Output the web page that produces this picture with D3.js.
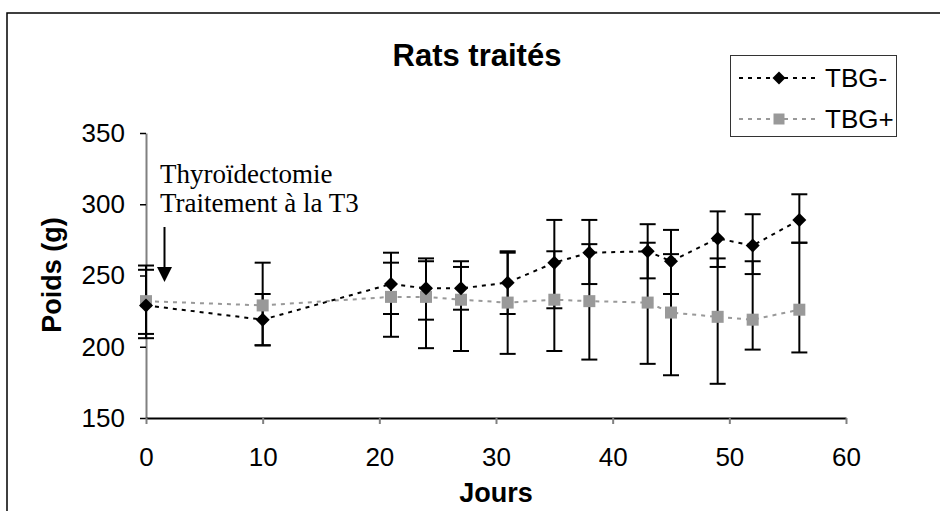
<!DOCTYPE html>
<html>
<head>
	<meta charset="utf-8">
	<script type="text/javascript" src="https://cdn.jsdelivr.net/npm/d3@7/dist/d3.min.js"></script>
	<title>Rats traités</title>
	<style>
		body { margin: 0; background: #fff; }
	</style>
</head>
<body>
	<script type="text/javascript">

	// jours de mesure
	var days = [0, 10, 21, 24, 27, 31, 35, 38, 43, 45, 49, 52, 56];

	// TBG- : moyenne, bas et haut des barres d'erreur
	var tbgMoins = [229, 219, 244, 241, 241, 245, 259, 266, 267, 260, 276, 271, 289];
	var tbgMoinsLo = [209, 201, 223, 219, 226, 223, 227, 244, 248, 237, 256, 251, 273];
	var tbgMoinsHi = [254, 237, 266, 262, 256, 267, 289, 289, 286, 282, 295, 293, 307];

	// TBG+
	var tbgPlus = [232, 229, 235, 235, 233, 231, 233, 232, 231, 224, 221, 219, 226];
	var tbgPlusLo = [206, 201, 207, 199, 197, 195, 197, 191, 188, 180, 174, 198, 196];
	var tbgPlusHi = [257, 259, 259, 260, 260, 266, 267, 272, 273, 265, 262, 260, 273];

	var xTicks = [0, 10, 20, 30, 40, 50, 60];
	var yTicks = [150, 200, 250, 300, 350];

	var widthSvg = 940;
	var heightSvg = 511;

	var svg = d3.select("body")
			.append("svg")
			.attr("width", widthSvg)
			.attr("height", heightSvg);

	// cadre exterieur (coupe a droite et en bas)
	svg.append("rect")
		.attr("x", 7).attr("y", 13)
		.attr("width", 1000).attr("height", 1000)
		.attr("fill", "none")
		.attr("stroke", "#000")
		.attr("stroke-width", 1.5);

	var xScale = d3.scaleLinear().domain([0, 60]).range([146, 846]);
	var yScale = d3.scaleLinear().domain([150, 350]).range([418, 133]);

	var fontSize = 26;

	// axes
	var yAxis = d3.axisLeft(yScale)
		.tickValues(yTicks)
		.tickSizeInner(6).tickSizeOuter(0)
		.tickPadding(15);

	var gy = svg.append("g")
		.attr("transform", "translate(146,0)")
		.call(yAxis);
	gy.select(".domain").attr("stroke", "#808080").attr("stroke-width", 2);
	gy.selectAll(".tick line").attr("stroke", "#000").attr("stroke-width", 1.5);
	gy.selectAll(".tick text")
		.attr("font-family", "Liberation Sans, Arial, sans-serif")
		.attr("font-size", fontSize)
		.attr("fill", "#000");

	var xAxis = d3.axisBottom(xScale)
		.tickValues(xTicks)
		.tickSizeInner(6).tickSizeOuter(0)
		.tickPadding(24);

	var gx = svg.append("g")
		.attr("transform", "translate(0,418)")
		.call(xAxis);
	gx.select(".domain").attr("stroke", "#000").attr("stroke-width", 2);
	gx.selectAll(".tick line").attr("stroke", "#808080").attr("stroke-width", 2);
	gx.selectAll(".tick text")
		.attr("font-family", "Liberation Sans, Arial, sans-serif")
		.attr("font-size", fontSize)
		.attr("fill", "#000");

	// titres
	svg.append("text")
		.attr("x", 477).attr("y", 66)
		.attr("text-anchor", "middle")
		.attr("font-family", "Liberation Sans, Arial, sans-serif")
		.attr("font-weight", "bold")
		.attr("font-size", 31)
		.text("Rats traités");

	svg.append("text")
		.attr("x", 496).attr("y", 502)
		.attr("text-anchor", "middle")
		.attr("font-family", "Liberation Sans, Arial, sans-serif")
		.attr("font-weight", "bold")
		.attr("font-size", 27)
		.text("Jours");

	svg.append("text")
		.attr("transform", "translate(61,275) rotate(-90)")
		.attr("text-anchor", "middle")
		.attr("font-family", "Liberation Sans, Arial, sans-serif")
		.attr("font-weight", "bold")
		.attr("font-size", 27)
		.text("Poids (g)");

	// annotation + fleche
	var note = svg.append("text")
		.attr("font-family", "Liberation Serif, Times New Roman, serif")
		.attr("font-size", 27)
		.attr("fill", "#000");
	note.append("tspan").attr("x", 160).attr("y", 183).text("Thyroïdectomie");
	note.append("tspan").attr("x", 160).attr("y", 212).text("Traitement à la T3");

	svg.append("line")
		.attr("x1", 164.5).attr("y1", 227)
		.attr("x2", 164.5).attr("y2", 268)
		.attr("stroke", "#000").attr("stroke-width", 2);
	svg.append("path")
		.attr("d", "M157,267 L172,267 L164.5,282 Z")
		.attr("fill", "#000");

	// losange carre (pas le losange etroit de d3)
	function diamondPath(r) {
		return "M0," + (-r) + "L" + r + ",0L0," + r + "L" + (-r) + ",0Z";
	}
	function squarePath(r) {
		return "M" + (-r) + "," + (-r) + "h" + (2 * r) + "v" + (2 * r) + "h" + (-2 * r) + "Z";
	}

	var series = [
		{ name: "TBG-", mean: tbgMoins, lo: tbgMoinsLo, hi: tbgMoinsHi, color: "#000", dash: "4,5", shape: diamondPath, legR: 6.5 },
		{ name: "TBG+", mean: tbgPlus, lo: tbgPlusLo, hi: tbgPlusHi, color: "#999999", dash: "4,5", shape: squarePath, legR: 5.5 }
	];

	var line = d3.line()
		.x(function(d) { return xScale(d[0]); })
		.y(function(d) { return yScale(d[1]); });

	// lignes (derriere les barres)
	series.slice().reverse().forEach(function(s) {
		svg.append("path")
			.datum(days.map(function(d, i) { return [d, s.mean[i]]; }))
			.attr("d", line)
			.attr("fill", "none")
			.attr("stroke", s.color)
			.attr("stroke-width", 2)
			.attr("stroke-dasharray", s.dash);
	});

	// barres d'erreur
	series.forEach(function(s) {
		var g = svg.append("g").attr("stroke", "#000").attr("stroke-width", 2);
		days.forEach(function(d, i) {
			var x = xScale(d);
			g.append("line")
				.attr("x1", x).attr("x2", x)
				.attr("y1", yScale(s.lo[i])).attr("y2", yScale(s.hi[i]));
			g.append("line")
				.attr("x1", x - 8).attr("x2", x + 8)
				.attr("y1", yScale(s.lo[i])).attr("y2", yScale(s.lo[i]));
			g.append("line")
				.attr("x1", x - 8).attr("x2", x + 8)
				.attr("y1", yScale(s.hi[i])).attr("y2", yScale(s.hi[i]));
		});
	});

	// marqueurs : carres gris puis losanges noirs
	svg.selectAll(".sq")
		.data(days)
		.enter()
		.append("path")
		.attr("class", "sq")
		.attr("d", squarePath(6))
		.attr("transform", function(d, i) { return "translate(" + xScale(d) + "," + yScale(tbgPlus[i]) + ")"; })
		.attr("fill", "#999999");

	svg.selectAll(".dm")
		.data(days)
		.enter()
		.append("path")
		.attr("class", "dm")
		.attr("d", diamondPath(7))
		.attr("transform", function(d, i) { return "translate(" + xScale(d) + "," + yScale(tbgMoins[i]) + ")"; })
		.attr("fill", "#000");

	// legende
	var leg = svg.append("g");
	leg.append("rect")
		.attr("x", 730.5).attr("y", 55.5)
		.attr("width", 166).attr("height", 81)
		.attr("fill", "#fff")
		.attr("stroke", "#333")
		.attr("stroke-width", 1);

	series.forEach(function(s, i) {
		var cy = 78 + i * 41;
		leg.append("line")
			.attr("x1", 739).attr("x2", 815)
			.attr("y1", cy).attr("y2", cy)
			.attr("stroke", s.color)
			.attr("stroke-width", 2)
			.attr("stroke-dasharray", s.dash);
		leg.append("path")
			.attr("d", s.shape(s.legR))
			.attr("transform", "translate(779," + cy + ")")
			.attr("fill", s.color);
		leg.append("text")
			.attr("x", 825).attr("y", cy + 9)
			.attr("font-family", "Liberation Sans, Arial, sans-serif")
			.attr("font-size", fontSize)
			.text(s.name);
	});

	</script>
</body>
</html>
